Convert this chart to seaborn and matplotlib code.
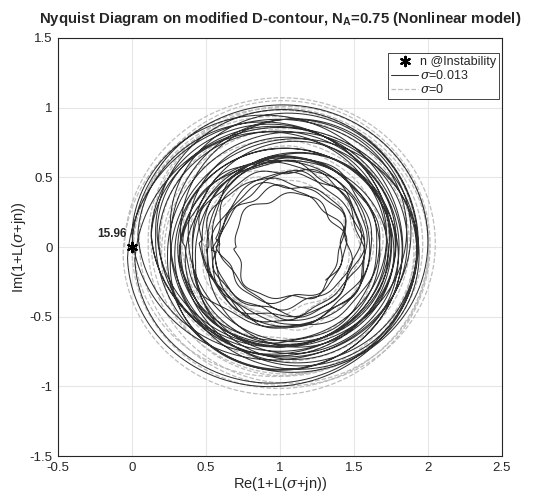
import numpy as np
import pandas as pd
import seaborn as sns
import matplotlib
matplotlib.use('Agg')
import matplotlib.pyplot as plt

# loop parameters (centre x, centre y, radius, wobble) per revolution
blk_cx = [1.00, 1.08, 0.92, 1.12, 0.95, 1.15, 0.90, 1.06, 1.14, 0.93, 1.10, 0.97, 1.13, 0.88, 1.04,
          1.12, 0.94, 1.02, 1.16, 0.91, 1.08, 0.98, 1.12, 0.95, 1.06, 1.00, 1.10, 0.96, 1.07, 1.03,
          0.98, 1.08, 1.02, 1.05, 1.00, 1.06]
blk_cy = [0.00, 0.08, -0.08, 0.12, -0.10, 0.05, 0.10, -0.09, 0.03, 0.11, -0.07, 0.07, -0.04, 0.09, -0.02,
          -0.11, 0.10, 0.02, -0.06, 0.08, -0.01, -0.09, 0.09, -0.03, 0.06, -0.05, 0.07, 0.03, -0.04, 0.05,
          0.00, 0.06, -0.02, 0.04, 0.02, 0.00]
blk_r = [1.00, 0.92, 0.95, 0.86, 0.93, 0.82, 0.90, 0.80, 0.88, 0.76, 0.86, 0.79, 0.72, 0.84, 0.75,
         0.69, 0.81, 0.71, 0.65, 0.78, 0.67, 0.62, 0.74, 0.63, 0.58, 0.68, 0.56, 0.61, 0.52, 0.57,
         0.49, 0.53, 0.46, 0.43, 0.40, 0.37]
blk_wob = [0.0] * 24 + [0.01, 0.015, 0.02, 0.025, 0.03, 0.035, 0.04, 0.045, 0.05, 0.05, 0.06, 0.06]

gry_cx = [1.00, 1.05, 0.96, 1.07, 0.99, 1.04, 0.95, 1.06, 1.01, 0.98, 1.04, 1.00, 1.03, 0.99]
gry_cy = [0.00, 0.05, -0.05, 0.04, -0.03, 0.06, 0.01, -0.04, 0.05, 0.00, 0.03, -0.02, 0.02, 0.01]
gry_r = [1.05, 1.00, 1.02, 0.96, 0.99, 0.91, 0.94, 0.86, 0.82, 0.76, 0.70, 0.63, 0.56, 0.48]
gry_wob = [0.0] * 10 + [0.01, 0.02, 0.03, 0.04]

inst_re = [0.0]
inst_im = [0.0]
inst_label = "15.96"

xticks = [-0.5, 0, 0.5, 1, 1.5, 2, 2.5]
yticks = [-1.5, -1, -0.5, 0, 0.5, 1, 1.5]


def trace(cx, cy, r, wob, end_frac=1.0, pts=160):
    xs, ys = [], []
    n = len(r)
    for k in range(n):
        k2 = min(k + 1, n - 1)
        frac = end_frac if k == n - 1 else 1.0
        t = np.linspace(0, frac, int(pts * frac), endpoint=(k == n - 1))
        th = np.pi - 2 * np.pi * t
        c_x = cx[k] + (cx[k2] - cx[k]) * t
        c_y = cy[k] + (cy[k2] - cy[k]) * t
        rr = r[k] + (r[k2] - r[k]) * t
        a = wob[k] + (wob[k2] - wob[k]) * t
        w = 1 + a * (np.sin(5 * th + 1.3 * k) + 0.6 * np.sin(9 * th + 0.7 * k))
        xs.append(c_x + rr * w * np.cos(th))
        ys.append(c_y + 1.02 * rr * w * np.sin(th))
    x = np.concatenate(xs)
    y = np.concatenate(ys)
    return pd.DataFrame({'re': x, 'im': y, 'i': np.arange(len(x))})


blk = trace(blk_cx, blk_cy, blk_r, blk_wob, end_frac=0.62)
gry = trace(gry_cx, gry_cy, gry_r, gry_wob)

sns.set_style("whitegrid")
plt.rcParams['font.family'] = ['Liberation Sans', 'DejaVu Sans']
plt.rcParams['mathtext.fontset'] = 'dejavuserif'

fig = plt.figure(figsize=(5.42, 4.99), dpi=100)
ax = fig.add_axes([0.107, 0.086, 0.819, 0.838])

sns.lineplot(data=gry, x='re', y='im', sort=False, estimator=None, ax=ax,
             color='#bdbdbd', linestyle='--', linewidth=0.9, label=r'$\sigma$=0')
sns.lineplot(data=blk, x='re', y='im', sort=False, estimator=None, ax=ax,
             color='black', linewidth=0.75, alpha=0.8, label=r'$\sigma$=0.013')
sns.scatterplot(x=inst_re, y=inst_im, marker=(6, 2, 0), s=45, color='black',
                edgecolor='black', linewidth=1.6, ax=ax, label='n @Instability', zorder=5)
ax.text(inst_re[0] - 0.035, inst_im[0] + 0.05, inst_label, ha='right', va='bottom',
        fontsize=8.5, fontweight='bold')

ax.set_xlim(-0.5, 2.5)
ax.set_ylim(-1.5, 1.5)
ax.set_xticks(xticks)
ax.set_yticks(yticks)
ax.set_xticklabels([f'{v:g}' for v in xticks])
ax.set_yticklabels([f'{v:g}' for v in yticks])
ax.tick_params(labelsize=9.5, direction='in', length=3, colors='#262626')
ax.tick_params(axis='x', pad=4)
ax.tick_params(axis='y', pad=4)
ax.grid(True, color='#e6e6e6', linewidth=0.8)
for s in ax.spines.values():
    s.set_edgecolor('#262626')
    s.set_linewidth(0.8)

ax.set_xlabel(r'Re(1+L($\sigma$+jn))', fontsize=10.5, labelpad=1)
ax.set_ylabel(r'Im(1+L($\sigma$+jn))', fontsize=10.5, labelpad=1)
ax.set_title('Nyquist Diagram on modified D-contour, N$_\\mathregular{A}$=0.75 (Nonlinear model)',
             fontsize=10.8, fontweight='bold', pad=11)

h, l = ax.get_legend_handles_labels()
order = [l.index('n @Instability'), l.index(r'$\sigma$=0.013'), l.index(r'$\sigma$=0')]
leg = ax.legend([h[i] for i in order], [l[i] for i in order], loc='upper right',
                bbox_to_anchor=(0.993, 0.965), fontsize=9, frameon=True, fancybox=False,
                edgecolor='#262626', framealpha=1, handlelength=2.2, handletextpad=0.1,
                borderpad=0.25, labelspacing=0.1, borderaxespad=0)
leg.get_frame().set_linewidth(0.6)

fig.savefig('out.png', dpi=100)
